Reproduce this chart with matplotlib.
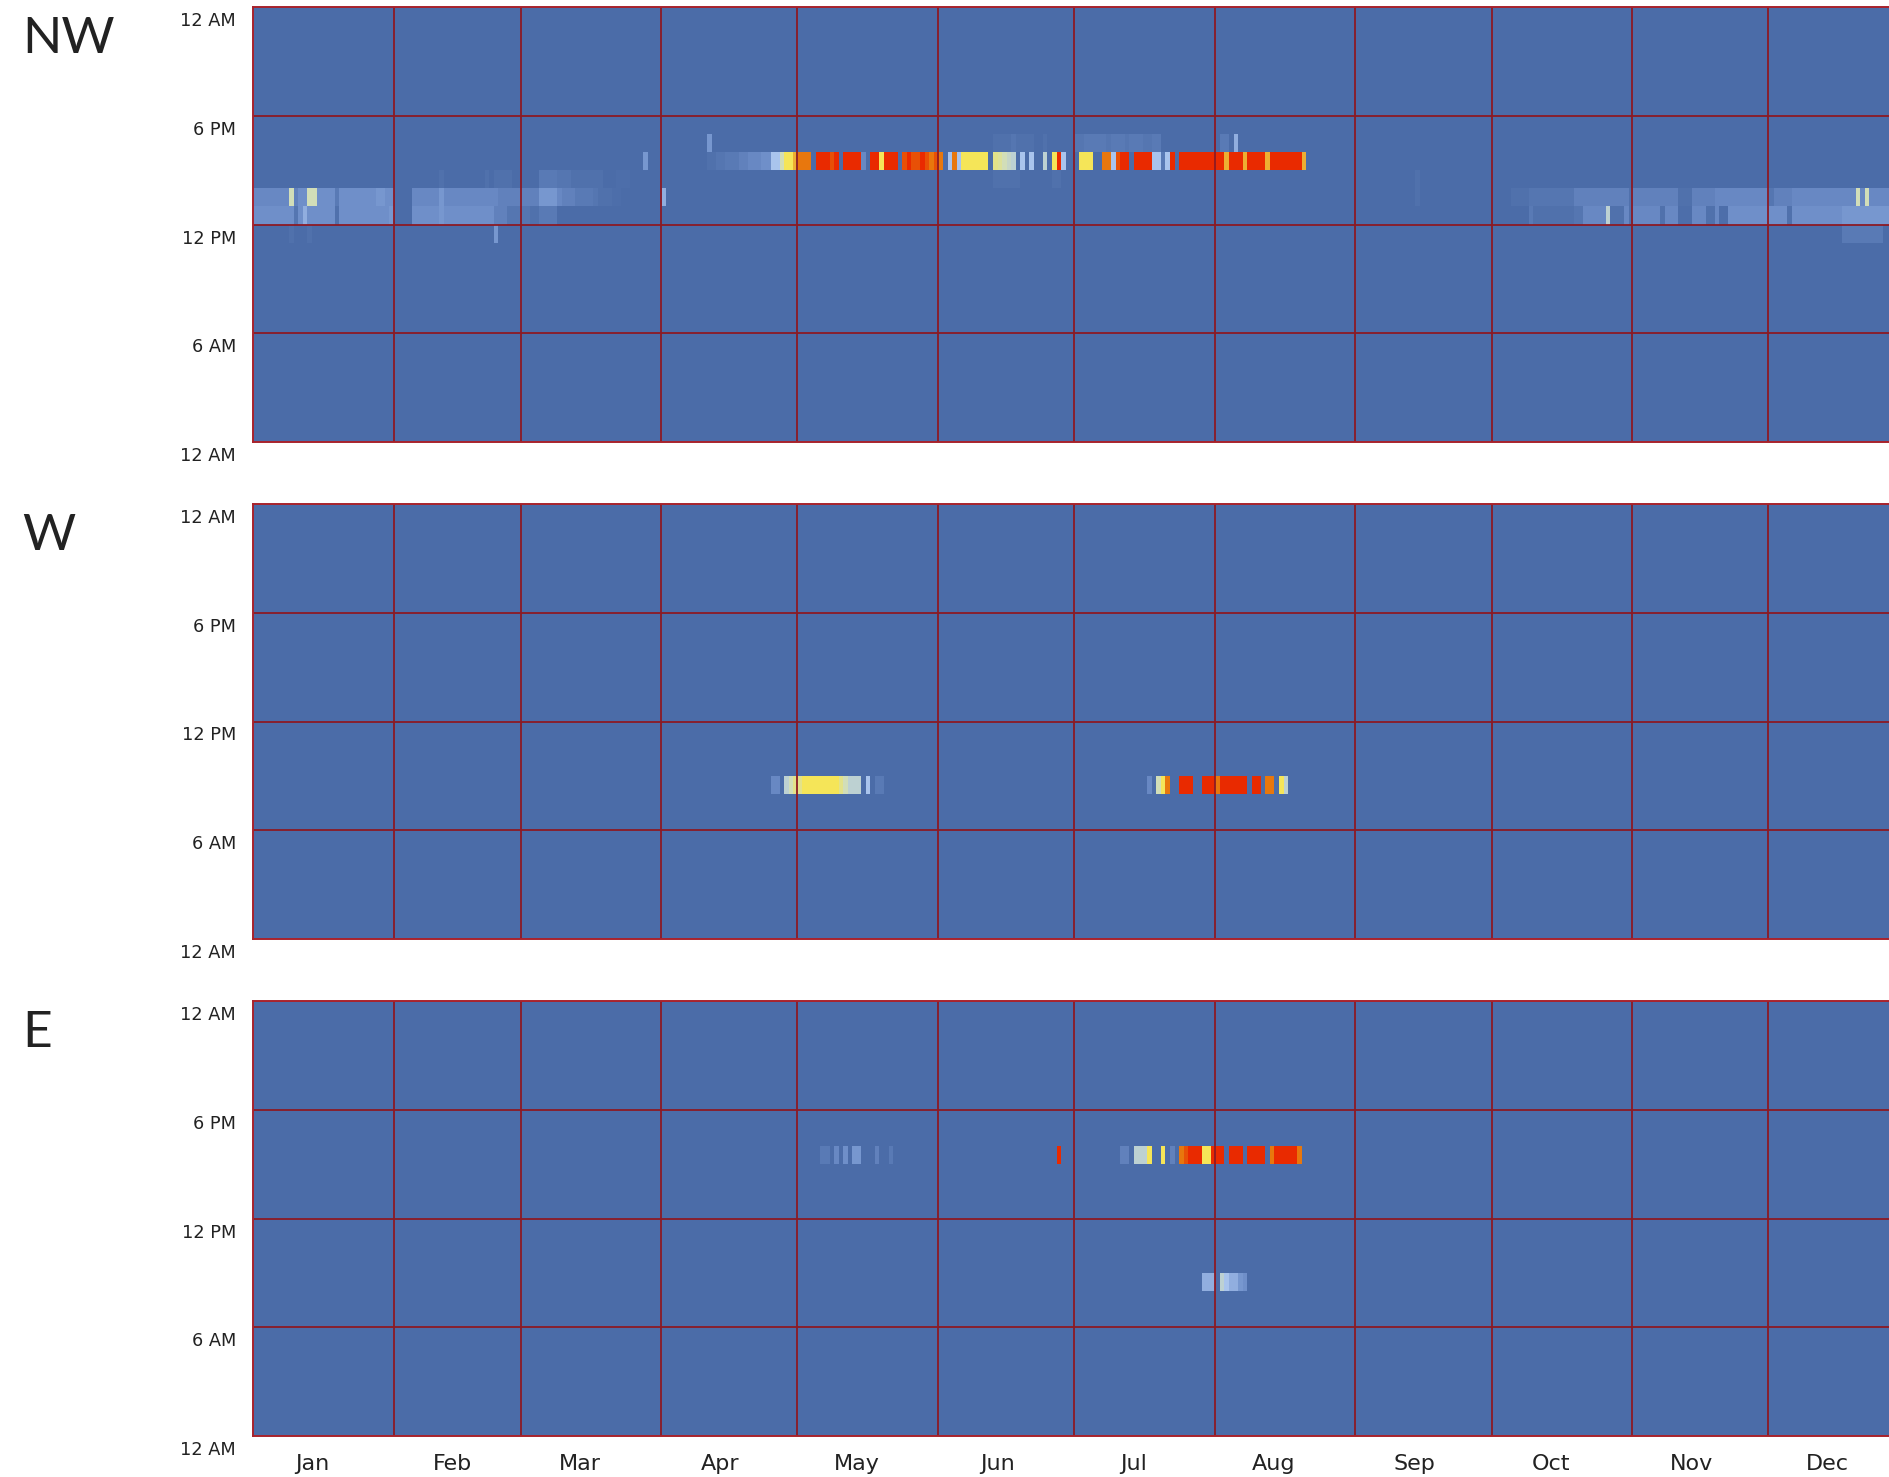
import numpy as np
import matplotlib
matplotlib.use("Agg")
import matplotlib.pyplot as plt
from matplotlib.colors import LinearSegmentedColormap
from matplotlib.transforms import ScaledTranslation

# ---------------------------------------------------------------------------
# Calendar / axis labels
# ---------------------------------------------------------------------------
months = ["Jan", "Feb", "Mar", "Apr", "May", "Jun",
          "Jul", "Aug", "Sep", "Oct", "Nov", "Dec"]
month_days = [31, 28, 31, 30, 31, 30, 31, 31, 30, 31, 30, 31]
hour_ticks = [0, 6, 12, 18, 24]
hour_labels = ["12 AM", "6 AM", "12 PM", "6 PM", "12 AM"]
panel_names = ["NW", "W", "E"]

# ---------------------------------------------------------------------------
# Intensity per (hour row, day) on a 0-9 scale.
# Each row is a list of (first day of year, [values for consecutive days]).
# ---------------------------------------------------------------------------
nw_h16 = [
    (100, [4]),
    (163, [1, 1, 1, 1, 1.5, 1, 1, 1, 1]),
    (174, [1]),
    (181, [1.5, 1.5, 2, 2, 2, 2, 2, 1.5, 2, 2, 2, 1.5, 2, 2, 2, 1.5, 1.5, 2, 2]),
    (213, [2, 2, 0, 4.5]),
]
nw_h15 = [
    (86, [4]),
    (100, [1, 1, 1.5, 1.5, 2, 2, 2, 2.5, 2.5, 3, 3, 3, 3.5, 3.5]),
    (114, [5, 5, 6, 7, 7, 7.5, 8, 8, 8]),
    (124, [9, 9, 9, 8.5, 9]),
    (130, [9, 9, 9, 9, 3]),
    (136, [9, 9, 7, 9, 9, 9]),
    (143, [8.5, 9, 8.5, 8.5, 9, 8.5, 8, 8.5, 8]),
    (153, [5, 8, 5, 7, 7, 7, 7, 7, 7]),
    (163, [6.5, 6.3, 6, 5.7, 5.5]),
    (169, [5]),
    (171, [5]),
    (174, [5.5]),
    (176, [7, 9, 5]),
    (182, [7, 7, 7]),
    (187, [8, 8, 5, 8.5, 9, 9]),
    (194, [9, 9, 9, 9, 5, 5, 2, 5, 9]),
    (204, [9, 9, 9, 9, 9, 9, 9, 9, 9, 9, 7.5, 9, 9, 9, 7.5,
           9, 9, 9, 9, 7.5, 9, 9, 9, 9, 9, 9, 9, 7.5]),
]
nw_h14 = [
    (41, [1]),
    (51, [1, 0, 1, 1, 1, 1]),
    (63, [2, 2, 2, 2, 1.5, 1.5, 1.5, 1, 1, 1, 1, 1, 1, 1]),
    (80, [0.5, 0.5, 0.5]),
    (163, [1, 1, 1, 1, 1, 1]),
    (176, [1, 1]),
    (256, [1]),
]
nw_h13 = [
    (0, [3, 3, 3, 3, 3, 3, 3, 3, 6, 2.5, 3.5, 3.5, 6, 6, 3.5, 3.5,
         3.5, 3.5, 2, 3.5, 3.5, 3.5, 3.5, 3.5, 3.5, 3.5, 3.5, 4, 4, 3.5, 3.5]),
    (35, [3, 3, 3, 3, 3, 3, 4, 3, 3, 3, 3, 3, 3, 3, 3, 3, 3, 3, 3,
          2.5, 2.5, 2.5, 2.5, 2.5]),
    (59, [2.5, 2.5, 2.5, 2.5, 4, 4, 4, 4, 3, 2.5, 2.5, 2.5, 2, 2, 2, 2, 1.5]),
    (76, [1, 1, 1, 0.5, 0.5]),
    (90, [4.5]),
    (256, [1]),
    (277, [1, 1, 1, 1, 1.5, 1.5, 1.5, 1.5, 1.5, 1.5, 1.5, 1.5, 1.5, 1.5]),
    (291, [2.5, 2.5, 2.5, 2.5, 2.5, 2.5, 2.5, 2.5, 2.5, 2.5, 2.5]),
    (302, [2.5, 1]),
    (304, [2.5, 2.5, 2.5, 2.5, 2.5, 2.5, 2.5, 2.5, 2.5, 2.5]),
    (314, [1, 1, 1]),
    (317, [2.5, 2.5, 2.5, 2.5, 2.5, 3, 3, 3, 3, 3, 3, 3, 3, 3, 3, 3, 3]),
    (334, [1.5]),
    (335, [2.5, 2.5, 2.5, 2.5, 3, 3, 3, 3, 3, 3, 3, 3, 3, 3, 3]),
    (350, [3, 3, 3, 6, 3, 6, 3, 3, 3, 3, 3]),
]
nw_h12 = [
    (0, [3.5, 3.5, 3.5, 3.5, 3.5, 3.5, 3.5, 3.5, 3.5, 1.5, 3.5, 4.5, 3.5, 3.5,
         3.5, 3.5, 3.5, 3.5, 1, 3.5, 3.5, 3.5, 3.5, 3.5, 3.5, 3.5, 3.5, 3.5,
         3.5, 3.5, 4]),
    (35, [3.5, 3.5, 3.5, 3.5, 3.5, 3.5, 4, 3.5, 3.5, 3.5, 3.5, 3.5, 3.5, 3.5,
          3.5, 3.5, 3.5, 3.5, 2.5, 2.5, 2.5, 1.5, 1.5, 1.5]),
    (59, [1.5, 1.5, 1, 1, 2, 2, 2, 2]),
    (281, [2, 1, 1, 1, 1, 1, 1, 1, 1, 1, 1.5, 1.5]),
    (293, [3, 3, 3, 3, 3, 5.5, 1, 1, 1, 3, 1, 3, 3, 3, 3, 3, 3, 1, 3, 3, 3,
           0.5, 0.5, 0.5, 3, 3, 3, 1, 1, 3, 0.5, 0.5]),
    (325, [3.5, 3.5, 3.5, 3.5, 3.5, 3.5, 3.5, 3.5, 3.5, 3.5, 3.5, 3.5, 3.5, 1,
           3.5, 3.5, 3.5, 3.5, 3.5, 3.5, 3.5, 3.5, 3.5, 3.5, 3.5]),
    (350, [4, 4, 4, 4, 4, 4, 4, 4, 4, 4, 4]),
]
nw_h11 = [
    (8, [1]),
    (12, [1]),
    (53, [4]),
    (350, [2, 2, 2, 2, 2, 2, 2, 2, 2]),
]

w_h8 = [
    (114, [3, 3, 0, 5.5, 6, 6.5, 6.5, 7, 7, 7, 7, 7, 7, 7, 7, 6.5, 6,
           5.5, 5.5, 5.5, 0, 5, 0, 2, 2]),
    (197, [3, 0, 6, 7, 8]),
    (204, [9, 9, 9]),
    (209, [9, 9, 9, 8, 9, 9, 9, 9, 9, 9]),
    (220, [9, 9]),
    (223, [8, 8]),
    (226, [7, 5.5]),
]

e_h15 = [
    (125, [2, 2, 0, 3, 0, 3.5, 0, 4, 4]),
    (137, [2.5]),
    (140, [2]),
    (177, [9]),
    (191, [2.5, 2.5, 0, 5.5, 5.5, 5.5, 7]),
    (200, [7]),
    (202, [2.5, 0, 8, 8.5, 9, 9, 9, 7, 7, 9, 9, 9, 0, 9, 9, 9, 0,
           9, 9, 9, 9, 0, 8, 9, 9, 9, 9, 9, 8]),
]
e_h8 = [
    (209, [4.5, 4.5, 4.5, 0, 5.5, 5, 4.5, 4.5, 4, 3.5]),
]

panel_rows = [
    {16: nw_h16, 15: nw_h15, 14: nw_h14, 13: nw_h13, 12: nw_h12, 11: nw_h11},
    {8: w_h8},
    {15: e_h15, 8: e_h8},
]

# ---------------------------------------------------------------------------
# Styling
# ---------------------------------------------------------------------------
cmap = LinearSegmentedColormap.from_list(
    "wind",
    [(0 / 9, "#4b6ca8"), (1 / 9, "#5172ad"), (2 / 9, "#5a7bb6"),
     (3 / 9, "#6888c3"), (4 / 9, "#7898d0"), (5 / 9, "#a9c4ee"),
     (6 / 9, "#d2deb8"), (7 / 9, "#f6e85a"), (8 / 9, "#e8780e"),
     (9 / 9, "#e92a00")])
grid_color = "#8c1a24"
text_color = "#222222"

W_PX, H_PX = 1890, 1477
fig = plt.figure(figsize=(W_PX / 100, H_PX / 100), dpi=100)
fig.patch.set_facecolor("white")

n_days = sum(month_days)
month_starts = np.concatenate([[0], np.cumsum(month_days)[:-1]])

left_px = 253
px_per_day = 4.537
panel_tops = [7, 504, 1001]
panel_h = 435

for idx, (name, rows) in enumerate(zip(panel_names, panel_rows)):
    grid = np.zeros((24, n_days))
    for hour, segments in rows.items():
        for start, vals in segments:
            grid[hour, start:start + len(vals)] = vals

    top = panel_tops[idx]
    ax = fig.add_axes([left_px / W_PX, 1 - (top + panel_h) / H_PX,
                       n_days * px_per_day / W_PX, panel_h / H_PX])
    ax.imshow(grid, origin="lower", extent=[0, n_days, 0, 24], aspect="auto",
              cmap=cmap, vmin=0, vmax=9, interpolation="nearest")
    ax.set_xlim(0, n_days)
    ax.set_ylim(0, 24)

    for x in np.cumsum(month_days)[:-1]:
        ax.axvline(x, color=grid_color, lw=1.3)
    for h in hour_ticks[1:-1]:
        ax.axhline(h, color=grid_color, lw=1.3)
    for sp in ax.spines.values():
        sp.set_color("#a8222c")
        sp.set_linewidth(1.4)

    ax.set_xticks([])
    ax.set_yticks([])

    # hour labels, sitting just below their grid line
    lab_tr = ax.get_yaxis_transform() + ScaledTranslation(
        -17 / 100, -14 / 100, fig.dpi_scale_trans)
    for h, lab in zip(hour_ticks, hour_labels):
        ax.text(0, h, lab, transform=lab_tr, ha="right", va="center",
                fontsize=12.8, color=text_color, family="DejaVu Sans")

    # direction name
    fig.text(22 / W_PX, 1 - (top + 46) / H_PX, name, ha="left",
             va="baseline", fontsize=37, color=text_color,
             family=["Lato", "DejaVu Sans"], fontweight="normal")

    if idx == len(panel_names) - 1:
        mon_tr = ax.get_xaxis_transform() + ScaledTranslation(
            0, -27.5 / 100, fig.dpi_scale_trans)
        for s, m in zip(month_starts, months):
            ax.text(s + 13, 0, m, transform=mon_tr, ha="center", va="center",
                    fontsize=16, color=text_color,
                    family=["Liberation Sans Narrow", "DejaVu Sans"])

fig.savefig("out.png", dpi=100)
